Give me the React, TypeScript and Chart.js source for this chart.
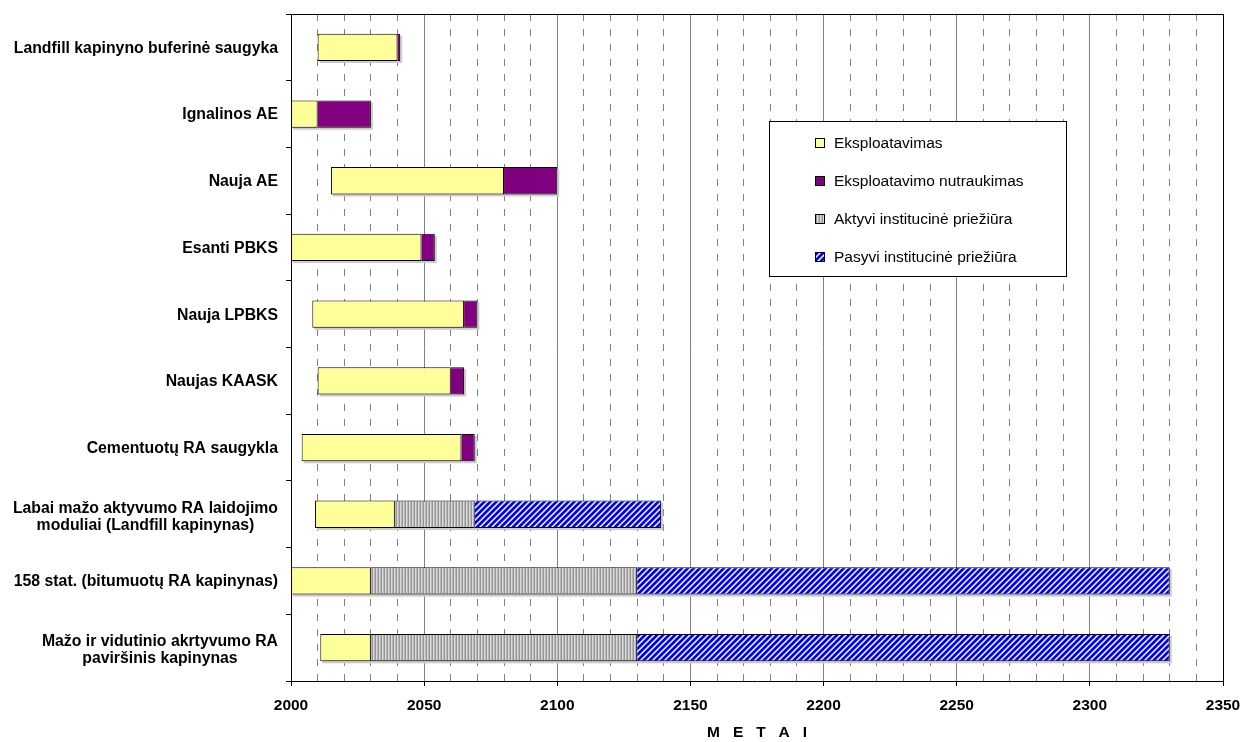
import { useEffect, useRef } from "react";
import { Chart, registerables } from "chart.js";

Chart.register(...registerables);

// Facilities (top to bottom), each as one or more label lines
const facilityLines: string[][] = [
  ["Landfill kapinyno buferinė saugyka"],
  ["Ignalinos AE"],
  ["Nauja AE"],
  ["Esanti PBKS"],
  ["Nauja LPBKS"],
  ["Naujas KAASK"],
  ["Cementuotų RA saugykla"],
  ["Labai mažo aktyvumo RA laidojimo", "moduliai (Landfill kapinynas)"],
  ["158 stat. (bitumuotų RA kapinynas)"],
  ["Mažo ir vidutinio akrtyvumo RA", "paviršinis kapinynas"],
];

// Phase boundaries in years
const startYear = [2010, 2000, 2015, 2000, 2008, 2010, 2004, 2009, 2000, 2011];
const operationEnd = [2040, 2010, 2080, 2049, 2065, 2060, 2064, 2039, 2030, 2030];
const shutdownEnd: (number | null)[] = [2041, 2030, 2100, 2054, 2070, 2065, 2069, null, null, null];
const activeCareEnd: (number | null)[] = [null, null, null, null, null, null, null, 2069, 2130, 2130];
const passiveCareEnd: (number | null)[] = [null, null, null, null, null, null, null, 2139, 2330, 2330];

const phaseNames = [
  "Eksploatavimas",
  "Eksploatavimo nutraukimas",
  "Aktyvi institucinė priežiūra",
  "Pasyvi institucinė priežiūra",
];

const yearMin = 2000;
const yearMax = 2350;
const gridStep = 10;
const labelStep = 50;
const axisTitle = "M   E   T   A   I";

const FONT = '"Liberation Sans", Arial, Helvetica, sans-serif';

function stripePattern(): CanvasPattern | string {
  const c = document.createElement("canvas");
  c.width = 3;
  c.height = 3;
  const g = c.getContext("2d");
  if (!g) return "#c0c0c0";
  const cols = ["#969696", "#dadada", "#b8b8b8"];
  cols.forEach((col, i) => {
    g.fillStyle = col;
    g.fillRect(i, 0, 1, 3);
  });
  return g.createPattern(c, "repeat") || "#c0c0c0";
}

function diagonalPattern(): CanvasPattern | string {
  const n = 6;
  const c = document.createElement("canvas");
  c.width = n;
  c.height = n;
  const g = c.getContext("2d");
  if (!g) return "#0000ff";
  const cols = ["#0000ff", "#0000ff", "#0000ff", "#7777ff", "#ffffff", "#9999ff"];
  for (let x = 0; x < n; x++) {
    for (let y = 0; y < n; y++) {
      g.fillStyle = cols[(x + y) % n];
      g.fillRect(x, y, 1, 1);
    }
  }
  return g.createPattern(c, "repeat") || "#0000ff";
}

function seg(a: (number | null)[], b: (number | null)[]) {
  return a.map((v, i) => (v != null && b[i] != null ? [v, b[i] as number] : null));
}

const barShadow = {
  id: "barShadow",
  beforeDatasetsDraw(chart: any) {
    const ctx = chart.ctx;
    ctx.save();
    ctx.fillStyle = "#cbcbcb";
    chart.data.datasets.forEach((ds: any, i: number) => {
      const meta = chart.getDatasetMeta(i);
      meta.data.forEach((el: any, j: number) => {
        if (ds.data[j] == null) return;
        const p = el.getProps(["x", "y", "base", "height"], true);
        if (!Number.isFinite(p.x) || !Number.isFinite(p.base)) return;
        const left = Math.min(p.x, p.base);
        const w = Math.abs(p.x - p.base);
        ctx.fillRect(left + 2, p.y - p.height / 2 + 2, w, p.height);
      });
    });
    ctx.restore();
  },
};

const frameAndLabels = {
  id: "frameAndLabels",
  afterDraw(chart: any) {
    const ctx = chart.ctx;
    const area = chart.chartArea;
    const ys = chart.scales.y;
    ctx.save();

    // top and right frame
    const t = Math.floor(area.top) + 0.5;
    const r = Math.floor(area.right) + 0.5;
    ctx.strokeStyle = "#000";
    ctx.lineWidth = 1;
    ctx.beginPath();
    ctx.moveTo(Math.floor(area.left), t);
    ctx.lineTo(r, t);
    ctx.lineTo(r, Math.floor(area.bottom) + 1);
    ctx.stroke();

    // category labels: block right-aligned, lines centred
    ctx.font = `bold 15.8px ${FONT}`;
    ctx.fillStyle = "#000";
    ctx.textAlign = "center";
    ctx.textBaseline = "middle";
    const rightEdge = area.left - 13;
    facilityLines.forEach((lines, i) => {
      const multi = lines.length > 1;
      const cy = ys.getPixelForValue(i) + (multi ? 2.5 : 1);
      const w = Math.max(...lines.map((l) => ctx.measureText(l).width));
      const cx = rightEdge - w / 2;
      lines.forEach((l, k) => {
        ctx.fillText(l, cx, cy + (k - (lines.length - 1) / 2) * 17);
      });
    });

    // legend box
    const lx = 769.5;
    const ly = 121.5;
    const lw = 297;
    const lh = 155;
    ctx.fillStyle = "#fff";
    ctx.fillRect(lx, ly, lw, lh);
    ctx.strokeStyle = "#000";
    ctx.strokeRect(lx, ly, lw, lh);
    ctx.font = `15.5px ${FONT}`;
    ctx.textAlign = "left";
    chart.data.datasets.forEach((ds: any, i: number) => {
      const cy = 143 + i * 38;
      ctx.fillStyle = ds.backgroundColor;
      ctx.fillRect(815.5, cy - 4.5, 9, 9);
      ctx.strokeStyle = "#000";
      ctx.strokeRect(815.5, cy - 4.5, 9, 9);
      ctx.fillStyle = "#000";
      ctx.fillText(ds.label, 834, cy + 1);
    });

    ctx.restore();
  },
};

export default function App() {
  const canvasRef = useRef<HTMLCanvasElement | null>(null);

  useEffect(() => {
    const canvas = canvasRef.current;
    if (!canvas) return;
    const isMajor = (v: number) => Math.round(v) % labelStep === 0;

    const common = {
      borderColor: "#000",
      borderWidth: 1,
      barPercentage: 0.41,
      categoryPercentage: 1,
      grouped: false,
    };

    const chart = new Chart(canvas, {
      type: "bar",
      data: {
        labels: facilityLines.map((l) => l.join(" ")),
        datasets: [
          {
            ...common,
            label: phaseNames[0],
            data: seg(startYear, operationEnd) as any,
            backgroundColor: "#ffff99",
            borderSkipped: false,
          },
          {
            ...common,
            label: phaseNames[1],
            data: seg(operationEnd, shutdownEnd) as any,
            backgroundColor: "#800080",
            borderSkipped: "start",
          },
          {
            ...common,
            label: phaseNames[2],
            data: seg(operationEnd, activeCareEnd) as any,
            backgroundColor: stripePattern() as any,
            borderSkipped: "start",
          },
          {
            ...common,
            label: phaseNames[3],
            data: seg(activeCareEnd, passiveCareEnd) as any,
            backgroundColor: diagonalPattern() as any,
            borderSkipped: "start",
          },
        ],
      },
      options: {
        indexAxis: "y",
        responsive: true,
        maintainAspectRatio: false,
        animation: false,
        layout: { padding: { top: 14, right: 19, left: 0, bottom: 0 } },
        plugins: {
          legend: { display: false },
          tooltip: { enabled: false },
        },
        scales: {
          x: {
            type: "linear",
            min: yearMin,
            max: yearMax,
            afterFit: (s: any) => {
              s.height = 61;
              s.paddingLeft = 0;
              s.paddingRight = 0;
            },
            ticks: {
              stepSize: gridStep,
              autoSkip: false,
              maxRotation: 0,
              padding: 10,
              color: "#000",
              font: { family: FONT, size: 15.5, weight: "bold" },
              callback: (v: any) => (isMajor(Number(v)) ? String(Math.round(Number(v))) : ""),
            },
            grid: {
              color: "#808080",
              lineWidth: 1,
              drawTicks: true,
              tickLength: 5,
              tickWidth: 1,
              tickColor: (ctx: any) =>
                ctx.tick && isMajor(ctx.tick.value) ? "#000" : "rgba(0,0,0,0)",
            },
            border: {
              display: true,
              color: "#000",
              width: 1,
              dash: (ctx: any) => (ctx.tick && !isMajor(ctx.tick.value) ? [7, 8] : []),
            },
            title: {
              display: true,
              text: axisTitle,
              color: "#000",
              font: { family: FONT, size: 15.5, weight: "bold" },
              padding: { top: 4, bottom: 0 },
            },
          },
          y: {
            type: "category",
            offset: true,
            afterFit: (s: any) => {
              s.width = 291;
              s.paddingTop = 0;
              s.paddingBottom = 0;
            },
            ticks: { display: false },
            grid: {
              display: true,
              offset: true,
              drawOnChartArea: false,
              drawTicks: true,
              tickLength: 5,
              color: "#000",
              tickColor: "#000",
            },
            border: { display: true, color: "#000", width: 1 },
          },
        },
      } as any,
      plugins: [barShadow, frameAndLabels],
    });

    return () => chart.destroy();
  }, []);

  return (
    <div style={{ position: "fixed", left: 0, top: 0, width: 1242, height: 742, background: "#fff" }}>
      <canvas ref={canvasRef} />
    </div>
  );
}
